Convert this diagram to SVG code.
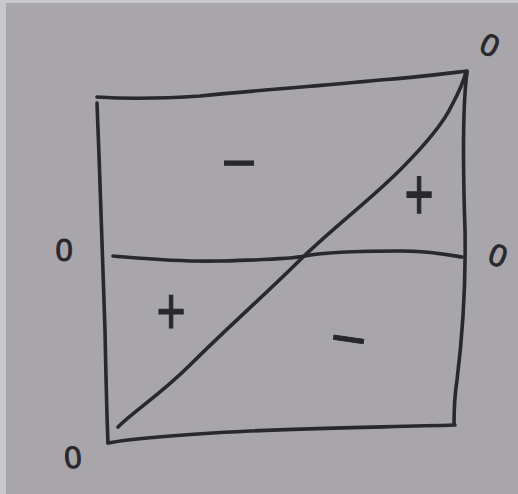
<svg xmlns="http://www.w3.org/2000/svg" width="518" height="494" viewBox="0 0 518 494">
<style>
.ln{fill:none;stroke:#29282c;stroke-width:3.6;stroke-linecap:round;stroke-linejoin:round}
.lb{font-family:"Liberation Sans",Arial,sans-serif;fill:#29282c;stroke:#29282c;stroke-width:0.9;text-anchor:middle}
.z{font-size:31px}
</style>
<rect width="518" height="494" fill="#a8a6ab"/>
<rect x="0" y="0" width="6" height="494" fill="#c9c8cc"/>
<rect x="0" y="0" width="518" height="3" fill="#c9c8cc"/>
<g id="connectors">
<path id="top" class="ln" d="M97,97 C130,99 170,98 200,96 C260,90 320,86 380,80 C420,77 450,73 467,71"/>
<path id="left" class="ln" d="M97,103 C100,180 103,260 105,330 C106,380 107,420 108,443"/>
<path id="bottom" class="ln" d="M108,443 C140,437 190,434 250,431 C320,428 390,427 455,425"/>
<path id="right" class="ln" d="M467,72 C462,110 463,170 465,230 C466,290 462,340 457,380 C454,400 454,415 454,424"/>
<path id="middle" class="ln" d="M113,256 C150,259 180,262 220,261 C260,260 290,259 305,256 C320,253 360,251 400,251 C430,251 450,255 462,257"/>
<path id="diagonal" class="ln" d="M118,427 C135,410 160,395 190,365 C230,325 265,295 303,257 C340,222 370,200 400,170 C430,140 445,120 452,105 C460,90 464,80 466,72"/>
</g>
<g id="label-minus-top"><text class="lb" x="239" y="183" font-size="60">−</text></g>
<g id="label-plus-right"><text class="lb" transform="translate(419,220) scale(1,1.5)" font-size="50">+</text></g>
<g id="label-plus-left"><text class="lb" transform="translate(171,334) scale(1,1.35)" font-size="50">+</text></g>
<g id="label-minus-bottom"><text class="lb" transform="rotate(8 348 343)" x="348" y="360" font-size="62">−</text></g>
<g id="zero-left"><text class="lb z" x="64" y="261" font-size="28">0</text></g>
<g id="zero-right"><text class="lb z" transform="rotate(20 498 255)" x="498" y="266">0</text></g>
<g id="zero-top-right"><text class="lb z" transform="rotate(25 490 45)" x="490" y="56">0</text></g>
<g id="zero-bottom-left"><text class="lb z" transform="rotate(-5 73 457)" x="73" y="468">0</text></g>
</svg>
